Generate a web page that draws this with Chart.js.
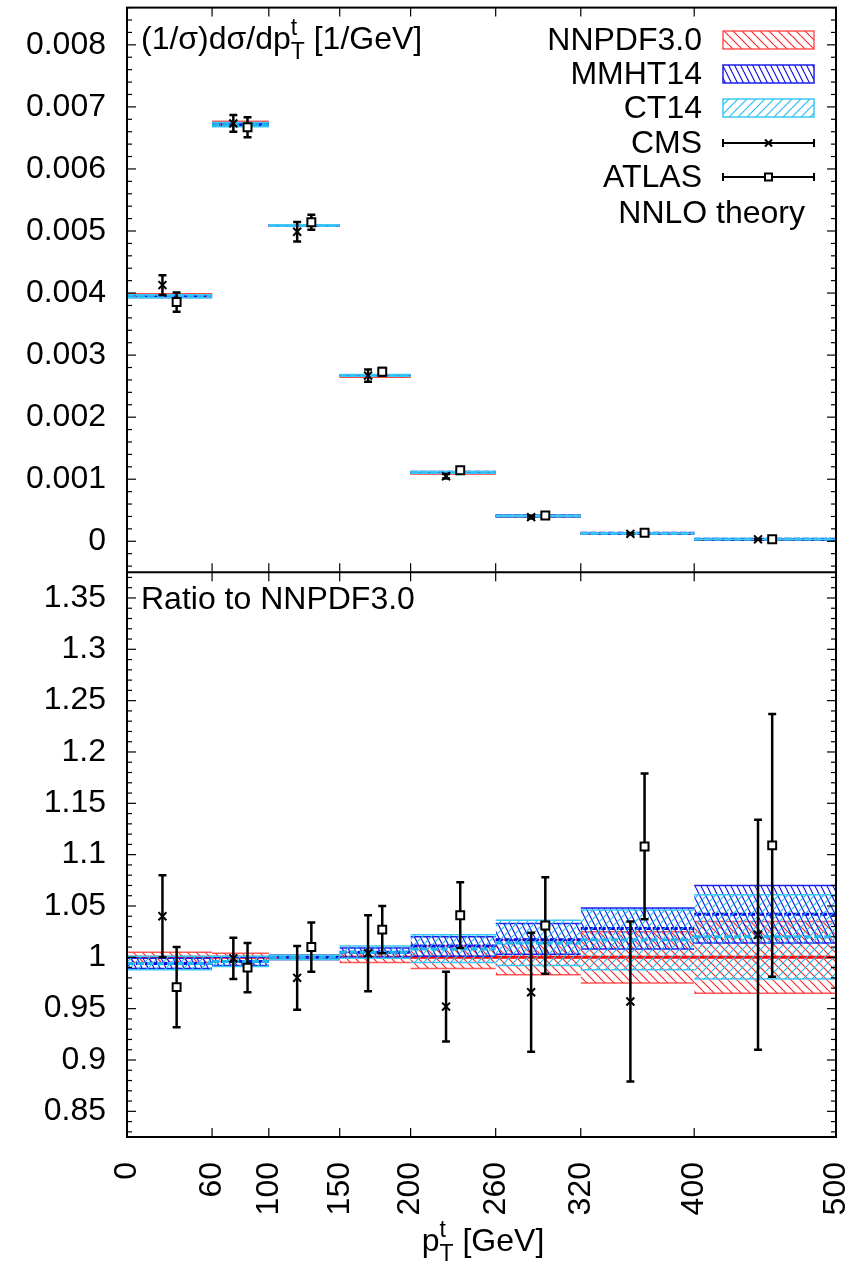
<!DOCTYPE html>
<html>
<head>
<meta charset="utf-8">
<script src="https://cdn.jsdelivr.net/npm/chart.js@4.4.0/dist/chart.umd.min.js"></script>
<style>
html,body{margin:0;padding:0;background:#fff}
</style>
</head>
<body>
<canvas id="c" width="859" height="1277"></canvas>
<script>
// bins in GeV
const binEdges=[0,60,100,150,200,260,320,400,500]
const xTickLabels=[0,60,100,150,200,260,320,400,500]
const topTicks=[0,0.001,0.002,0.003,0.004,0.005,0.006,0.007,0.008]
const ratioTicks=[0.85,0.9,0.95,1,1.05,1.1,1.15,1.2,1.25,1.3,1.35]

// NNLO NNPDF3.0 central value, (1/sigma) dsigma/dpT [1/GeV]
const nnpdfXsec=[0.00397,0.00674,0.00509,0.00266,0.00110,0.000402,0.000125,0.00003]

// theory bands, as ratio to NNPDF3.0
const nnpdfMid=[1,1,1,1,1,1,1,1]
const nnpdfLo=[0.995,0.996,0.998,0.995,0.989,0.983,0.975,0.965]
const nnpdfHi=[1.005,1.004,1.002,1.005,1.011,1.017,1.025,1.035]
const mmhtMid=[0.994,0.996,1.0,1.005,1.011,1.017,1.028,1.042]
const mmhtLo=[0.989,0.992,0.998,1.0,1.001,1.003,1.008,1.014]
const mmhtHi=[0.999,1.0,1.002,1.009,1.020,1.033,1.048,1.07]
const ct14Mid=[0.994,0.996,1.0,1.005,1.008,1.014,1.017,1.02]
const ct14Lo=[0.988,0.991,0.998,0.999,0.995,0.992,0.988,0.979]
const ct14Hi=[1.001,1.001,1.002,1.011,1.022,1.036,1.046,1.061]

// data / NNPDF3.0
const cmsRatio=[1.040,0.999,0.980,1.004,0.952,0.966,0.957,1.022]
const cmsErr=[0.040,0.020,0.031,0.037,0.034,0.058,0.078,0.112]
const atlasRatio=[0.971,0.990,1.010,1.027,1.041,1.031,1.108,1.109]
const atlasErr=[0.039,0.024,0.024,0.023,0.032,0.047,0.071,0.128]

const FONT='"Liberation Sans", Arial, Helvetica, sans-serif'
const FS=32
const SUB=23
const capHalf=2.8
const dataShift=5

function hatch(color,w,h,dir){
    const c=document.createElement('canvas')
    c.width=w;c.height=h
    const g=c.getContext('2d')
    g.strokeStyle=color
    g.lineWidth=1.2
    g.beginPath()
    for(const dx of [-w,0,w]){
        if(dir>0){g.moveTo(dx,0);g.lineTo(dx+w,h)}
        else{g.moveTo(dx+w,0);g.lineTo(dx,h)}
    }
    g.stroke()
    return g.createPattern(c,'repeat')
}

const styles={
    nnpdf:{edge:'rgba(255,70,70,0.9)',line:'rgb(255,0,0)',pattern:hatch('rgb(255,40,40)',9,9,1),dash:[],order:30},
    mmht:{edge:'rgb(30,30,235)',line:'rgb(0,0,230)',pattern:hatch('rgb(20,20,230)',6,12,1),dash:[7,2],order:20},
    ct14:{edge:'rgb(60,200,245)',line:'rgb(30,180,240)',pattern:hatch('rgb(40,190,240)',9,9,-1),dash:[7,3],order:10}
}

function stepData(vals){
    const pts=[]
    vals.forEach((v,i)=>{
        pts.push({x:binEdges[i],y:v},{x:binEdges[i+1],y:v})
        if(i<vals.length-1) pts.push({x:binEdges[i+1],y:null})
    })
    return pts
}

const datasets=[]

function bandSets(axis,lo,mid,hi,st){
    const base=datasets.length
    const common={type:'line',yAxisID:axis,pointRadius:0,spanGaps:false,order:st.order}
    datasets.push({...common,data:stepData(hi),borderColor:st.edge,borderWidth:1.5,backgroundColor:st.pattern,fill:base+1})
    datasets.push({...common,data:stepData(lo),borderColor:st.edge,borderWidth:1.5,fill:false})
    datasets.push({...common,data:stepData(mid),borderColor:st.line,borderWidth:3,borderDash:st.dash,fill:false})
}

const centers=binEdges.slice(0,-1).map((e,i)=>(e+binEdges[i+1])/2)
const cmsX=centers.map(c=>c-dataShift)
const atlasX=centers.map(c=>c+dataShift)

function errData(xs,vals,errs){
    const pts=[]
    xs.forEach((x,i)=>{
        const lo=vals[i]-errs[i],hi=vals[i]+errs[i]
        pts.push({x,y:lo},{x,y:hi},{x,y:null},
            {x:x-capHalf,y:lo},{x:x+capHalf,y:lo},{x,y:null},
            {x:x-capHalf,y:hi},{x:x+capHalf,y:hi},{x,y:null})
    })
    return pts
}

function pointSets(axis,xs,vals,errs,style){
    datasets.push({type:'line',yAxisID:axis,data:errData(xs,vals,errs),borderColor:'#000',borderWidth:2.5,pointRadius:0,spanGaps:false,fill:false,order:1})
    datasets.push({type:'line',yAxisID:axis,data:xs.map((x,i)=>({x,y:vals[i]})),showLine:false,pointStyle:style,
        pointRadius:5.6,pointBorderWidth:2,pointBorderColor:'#000',pointBackgroundColor:'#fff',order:0})
}

const scaleTop=(arr)=>arr.map((r,i)=>r*nnpdfXsec[i])

// upper panel
bandSets('yTop',scaleTop(nnpdfLo),scaleTop(nnpdfMid),scaleTop(nnpdfHi),styles.nnpdf)
bandSets('yTop',scaleTop(mmhtLo),scaleTop(mmhtMid),scaleTop(mmhtHi),styles.mmht)
bandSets('yTop',scaleTop(ct14Lo),scaleTop(ct14Mid),scaleTop(ct14Hi),styles.ct14)
pointSets('yTop',cmsX,scaleTop(cmsRatio),scaleTop(cmsErr),'crossRot')
pointSets('yTop',atlasX,scaleTop(atlasRatio),scaleTop(atlasErr),'rect')
// ratio panel
bandSets('yRat',nnpdfLo,nnpdfMid,nnpdfHi,styles.nnpdf)
bandSets('yRat',mmhtLo,mmhtMid,mmhtHi,styles.mmht)
bandSets('yRat',ct14Lo,ct14Mid,ct14Hi,styles.ct14)
pointSets('yRat',cmsX,cmsRatio,cmsErr,'crossRot')
pointSets('yRat',atlasX,atlasRatio,atlasErr,'rect')

// sub/superscript text helper; parts with over:true share x with the next part
function richText(ctx,x,y,parts,align){
    let w=0,carry=0
    parts.forEach(p=>{ctx.font=p.size+'px '+FONT;p.w=ctx.measureText(p.t).width})
    parts.forEach((p,i)=>{
        if(p.over){carry=p.w;return}
        p.adv=Math.max(p.w,carry);carry=0;w+=p.adv
    })
    let cx=align==='center'?x-w/2:x
    parts.forEach(p=>{
        ctx.font=p.size+'px '+FONT
        ctx.fillText(p.t,cx,y+(p.dy||0))
        if(!p.over)cx+=p.adv
    })
}

const legendRows=[
    {label:'NNPDF3.0',kind:'band',st:styles.nnpdf,y:40},
    {label:'MMHT14',kind:'band',st:styles.mmht,y:74},
    {label:'CT14',kind:'band',st:styles.ct14,y:108},
    {label:'CMS',kind:'err',ps:'crossRot',y:143},
    {label:'ATLAS',kind:'err',ps:'rect',y:177},
]

const decor={
    id:'decor',
    afterDraw(chart){
        const {ctx,chartArea:a,scales}=chart
        const x=scales.x,yT=scales.yTop,yR=scales.yRat
        const mid=yT.bottom
        ctx.save()
        ctx.strokeStyle='#000'
        const seg=(x1,y1,x2,y2)=>{ctx.beginPath();ctx.moveTo(x1,y1);ctx.lineTo(x2,y2);ctx.stroke()}
        ctx.lineWidth=1.2
        xTickLabels.forEach(v=>{
            const p=x.getPixelForValue(v)
            seg(p,a.top,p,a.top+9);seg(p,mid,p,mid-9);seg(p,mid,p,mid+9);seg(p,a.bottom,p,a.bottom-9)
        })
        const yTicks=(sc,major,step)=>{
            for(let k=Math.ceil(sc.min/step-1e-6);k*step<=sc.max+1e-12;k++){
                const v=k*step
                const p=sc.getPixelForValue(v)
                const isMajor=major.some(m=>Math.abs(m-v)<step/10)
                const len=isMajor?9:5
                seg(a.left,p,a.left+len,p);seg(a.right,p,a.right-len,p)
            }
        }
        yTicks(yT,topTicks,0.0002)
        yTicks(yR,ratioTicks,0.01)
        ctx.lineWidth=2
        ctx.strokeRect(a.left,a.top,a.right-a.left,a.bottom-a.top)
        seg(a.left,mid,a.right,mid)

        ctx.fillStyle='#000'
        ctx.textBaseline='alphabetic'
        ctx.textAlign='left'
        richText(ctx,141,49,[{t:'(1/σ)dσ/dp',size:FS},{t:'T',size:SUB,dy:10,over:true},{t:'t',size:SUB,dy:-14},{t:' [1/GeV]',size:FS}],'left')
        richText(ctx,141,609,[{t:'Ratio to NNPDF3.0',size:FS}],'left')
        richText(ctx,483,1251,[{t:'p',size:FS},{t:'T',size:SUB,dy:10,over:true},{t:'t',size:SUB,dy:-14},{t:' [GeV]',size:FS}],'center')

        // key
        const kx0=723,kx1=814
        ctx.font=FS+'px '+FONT
        ctx.textAlign='right'
        ctx.textBaseline='middle'
        legendRows.forEach(r=>{
            ctx.fillStyle='#000'
            ctx.fillText(r.label,702,r.y+1)
            if(r.kind==='band'){
                ctx.fillStyle=r.st.pattern
                ctx.fillRect(kx0,r.y-9,kx1-kx0,18)
                ctx.strokeStyle=r.st.edge
                ctx.lineWidth=1.5
                ctx.strokeRect(kx0,r.y-9,kx1-kx0,18)
            }else{
                ctx.strokeStyle='#000'
                ctx.lineWidth=2
                seg(kx0,r.y,kx1,r.y);seg(kx0,r.y-4,kx0,r.y+4);seg(kx1,r.y-4,kx1,r.y+4)
                ctx.fillStyle='#fff'
                Chart.helpers.drawPoint(ctx,{pointStyle:r.ps,radius:5,borderWidth:2},(kx0+kx1)/2,r.y)
            }
        })
        ctx.fillStyle='#000'
        ctx.fillText('NNLO theory',805,214)
        ctx.restore()
    }
}

const tickFont={family:FONT,size:FS}
const noPad=s=>{s.paddingTop=0;s.paddingBottom=0;s.paddingLeft=0;s.paddingRight=0}

new Chart(document.getElementById('c'),{
    type:'line',
    data:{datasets},
    options:{
        responsive:false,
        animation:false,
        layout:{padding:{top:5,right:23,left:0,bottom:0}},
        plugins:{legend:{display:false},tooltip:{enabled:false}},
        scales:{
            x:{
                type:'linear',min:0,max:500,
                afterBuildTicks:s=>{s.ticks=xTickLabels.map(v=>({value:v}))},
                afterFit:s=>{s.height=140;noPad(s)},
                ticks:{autoSkip:false,maxRotation:90,minRotation:90,padding:25,color:'#000',font:tickFont,callback:v=>String(v)},
                grid:{display:false,drawTicks:false},
                border:{display:false}
            },
            yRat:{
                type:'linear',position:'left',stack:'panels',stackWeight:1,min:0.825,max:1.375,
                afterBuildTicks:s=>{s.ticks=ratioTicks.map(v=>({value:v}))},
                afterFit:s=>{s.width=127;noPad(s)},
                ticks:{autoSkip:false,padding:21,color:'#000',font:tickFont,callback:v=>String(v)},
                grid:{display:false,drawTicks:false},
                border:{display:false}
            },
            yTop:{
                type:'linear',position:'left',stack:'panels',stackWeight:1,min:-0.0005,max:0.0086,
                afterBuildTicks:s=>{s.ticks=topTicks.map(v=>({value:v}))},
                afterFit:s=>{s.width=127;noPad(s)},
                ticks:{autoSkip:false,padding:21,color:'#000',font:tickFont,callback:v=>String(v)},
                grid:{display:false,drawTicks:false},
                border:{display:false}
            }
        }
    },
    plugins:[decor]
})
</script>
</body>
</html>
